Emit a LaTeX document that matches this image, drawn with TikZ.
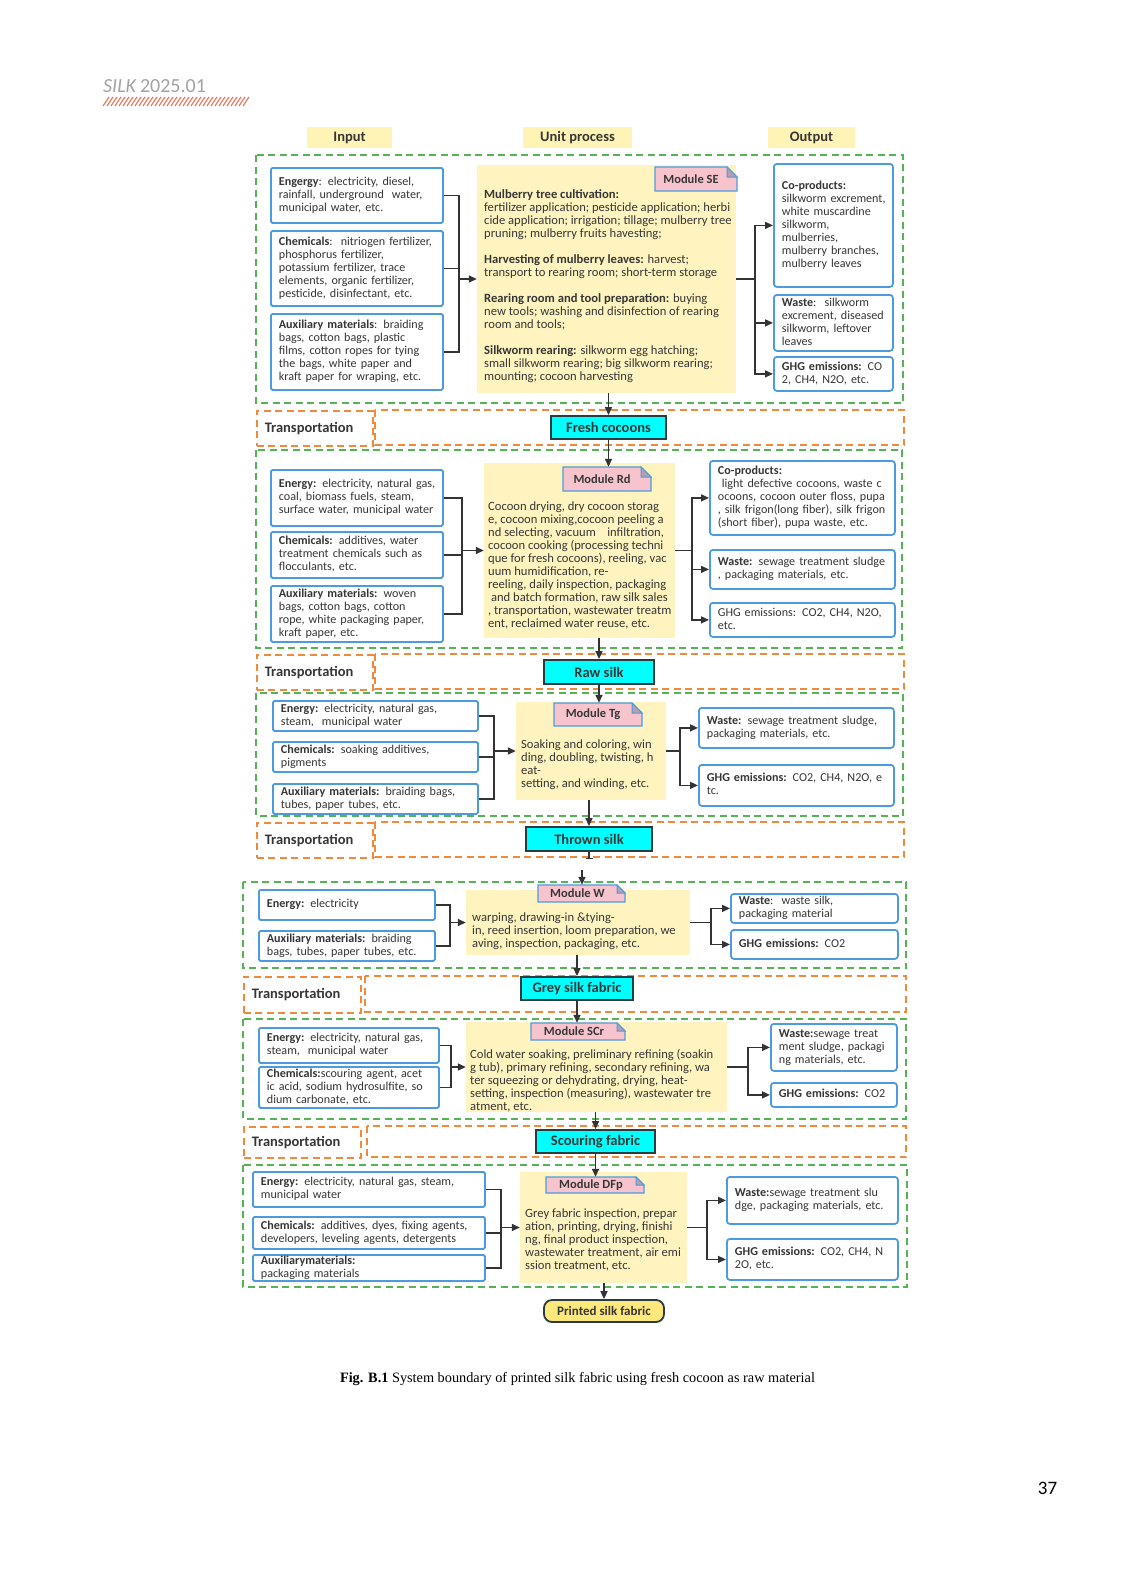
\documentclass[tikz,border=0pt]{standalone}
\usepackage{fontspec}
\setmainfont{Carlito}
\newfontfamily\capfont{Liberation Serif}
\usetikzlibrary{arrows.meta}
\definecolor{headgrey}{HTML}{A3A3A3}
\definecolor{hatchred}{HTML}{E57B5C}
\definecolor{grpgreen}{HTML}{55B255}
\definecolor{trporange}{HTML}{EF8A3C}
\definecolor{boxblue}{HTML}{4C9BE0}
\definecolor{unityel}{HTML}{FFF4C0}
\definecolor{headyel}{HTML}{FFF4B5}
\definecolor{modpink}{HTML}{F7C4CD}
\definecolor{foldgrey}{HTML}{BB9DAE}
\definecolor{prodcyan}{HTML}{00FFFF}
\definecolor{prodline}{HTML}{2B3B40}
\definecolor{printyel}{HTML}{FFE97C}
\definecolor{txt}{HTML}{363636}
\definecolor{linec}{HTML}{333333}
\newcommand{\bodyfont}{\fontsize{12.1}{13}\selectfont}
\newcommand{\unitfont}{\fontsize{12.6}{13}\selectfont}
\newcommand{\lns}[1]{\begin{tabular}{@{}l@{}}#1\end{tabular}}

\begin{document}
\begin{tikzpicture}[x=1pt, y=-1pt,
    grp/.style={draw=grpgreen, line width=1.5pt, dash pattern=on 7pt off 4.5pt},
    trp/.style={draw=trporange, line width=1.5pt, dash pattern=on 7pt off 4.5pt},
    trbox/.style={trp, anchor=north west, inner xsep=8pt, inner ysep=0pt, font=\fontsize{14.5}{16}\selectfont\bfseries, text=txt},
    colhead/.style={fill=headyel, inner sep=0pt, font=\fontsize{14.5}{16}\selectfont\bfseries, text=txt},
    inbox/.style={draw=boxblue, line width=1.8pt, fill=white, rounded corners=1.5pt, anchor=north west, inner xsep=8pt, inner ysep=0pt, font=\bodyfont, text=txt},
    outbox/.style={inbox, rounded corners=3pt},
    unitbox/.style={fill=unityel, inner sep=0pt},
    unittext/.style={anchor=north west, inner sep=0pt, align=left, font=\unitfont, text=txt},
    modfill/.style={fill=modpink, draw=boxblue, line width=1.3pt},
    modfold/.style={fill=foldgrey, draw=boxblue, line width=1pt},
    modlabel/.style={inner sep=0pt, font=\fontsize{12.5}{14}\selectfont\bfseries, text=txt},
    prodbox/.style={draw=prodline, line width=1.8pt, fill=prodcyan, inner sep=0pt, font=\fontsize{14.5}{16}\selectfont\bfseries, text=txt},
    printbox/.style={prodbox, fill=printyel, rounded corners=8pt, font=\fontsize{13}{15}\selectfont\bfseries},
    conn/.style={draw=linec, line width=1.5pt},
    arr/.style={conn, -{Triangle[length=8pt,width=7pt]}},
]
\path[use as bounding box, fill=white] (0,0) rectangle (1134,1582);

% page header
\node[anchor=base west, inner sep=0pt, text=headgrey, font=\fontsize{20}{22}\selectfont] (silk) at (103,92) {\textit{SILK}\,2025.01};
\foreach \i in {0,...,35} \draw[hatchred, line width=1.2pt] (103+4*\i,106) -- (109+4*\i,97);

% column heads
\node[colhead, minimum width=85pt, minimum height=21pt] (h-in) at (349.5,137.5) {Input};
\node[colhead, minimum width=109pt, minimum height=21pt] (h-up) at (577.5,137.5) {Unit process};
\node[colhead, minimum width=87pt, minimum height=21pt] (h-out) at (811.5,137.5) {Output};

% system boundaries
\draw[grp] (256,155) rectangle (903,403);
\draw[grp] (256,450) rectangle (902,648);
\draw[grp] (256,693) rectangle (903,816);
\draw[grp] (243,882) rectangle (906,968);
\draw[grp] (243,1019) rectangle (906,1119);
\draw[grp] (243,1165) rectangle (907,1287);

% transportation rows
\node[trbox, text width=100pt, minimum height=35pt] (tr1) at (256,410) {Transportation};
\draw[trp] (375,410) rectangle (904,445);
\node[trbox, text width=100pt, minimum height=35pt] (tr2) at (256,654) {Transportation};
\draw[trp] (375,654) rectangle (904,689);
\node[trbox, text width=100pt, minimum height=35pt] (tr3) at (256,822) {Transportation};
\draw[trp] (375,822) rectangle (904,857);
\node[trbox, text width=101pt, minimum height=36pt] (tr4) at (243,976) {Transportation};
\draw[trp] (365,976) rectangle (906,1012);
\node[trbox, text width=101pt, minimum height=31pt] (tr5) at (243,1126) {Transportation};
\draw[trp] (367,1126) rectangle (906,1157);

% unit process boxes
\node[unitbox, minimum width=259pt, minimum height=228pt] (se-unit) at (606.5,279) {};
\node[unitbox, minimum width=191pt, minimum height=175pt] (rd-unit) at (579.5,550.5) {};
\node[unitbox, minimum width=150pt, minimum height=98pt] (tg-unit) at (591,751) {};
\node[unitbox, minimum width=224pt, minimum height=65pt] (w-unit) at (578,922.5) {};
\node[unitbox, minimum width=261pt, minimum height=90pt] (scr-unit) at (596.5,1067) {};
\node[unitbox, minimum width=167pt, minimum height=111pt] (dfp-unit) at (603.5,1227.5) {};

% module labels
\filldraw[modfill] (655,167) -- (727,167) -- (737,177) -- (737,191) -- (655,191) -- cycle;
\filldraw[modfold] (727,167) -- (727,177) -- (737,177) -- cycle;
\node[modlabel, minimum width=72pt, minimum height=24pt] (se-mod) at (691,179) {Module SE};
\filldraw[modfill] (563,467) -- (641,467) -- (651,477) -- (651,491) -- (563,491) -- cycle;
\filldraw[modfold] (641,467) -- (641,477) -- (651,477) -- cycle;
\node[modlabel, minimum width=78pt, minimum height=24pt] (rd-mod) at (602,479) {Module Rd};
\filldraw[modfill] (554,703) -- (632,703) -- (642,713) -- (642,726) -- (554,726) -- cycle;
\filldraw[modfold] (632,703) -- (632,713) -- (642,713) -- cycle;
\node[modlabel, minimum width=78pt, minimum height=23pt] (tg-mod) at (593,714.5) {Module Tg};
\filldraw[modfill] (538,885) -- (617,885) -- (625,893) -- (625,902) -- (538,902) -- cycle;
\filldraw[modfold] (617,885) -- (617,893) -- (625,893) -- cycle;
\node[modlabel, minimum width=79pt, minimum height=17pt] (w-mod) at (577.5,893.5) {Module W};
\filldraw[modfill] (531,1023) -- (617,1023) -- (625,1031) -- (625,1040) -- (531,1040) -- cycle;
\filldraw[modfold] (617,1023) -- (617,1031) -- (625,1031) -- cycle;
\node[modlabel, minimum width=86pt, minimum height=17pt] (scr-mod) at (574,1031.5) {Module SCr};
\filldraw[modfill] (546,1177) -- (636,1177) -- (644,1185) -- (644,1193) -- (546,1193) -- cycle;
\filldraw[modfold] (636,1177) -- (636,1185) -- (644,1185) -- cycle;
\node[modlabel, minimum width=90pt, minimum height=16pt] (dfp-mod) at (591,1185) {Module DFp};

% unit process texts
\node[unittext] (se-txt) at (484,189) {\textbf{Mulberry tree cultivation:}\\ fertilizer application; pesticide application; herbi\\ cide application; irrigation; tillage; mulberry tree\\ pruning; mulberry fruits havesting;\\[13pt] \textbf{Harvesting of mulberry leaves:} harvest;\\ transport to rearing room; short-term storage\\[13pt] \textbf{Rearing room and tool preparation:} buying\\ new tools; washing and disinfection of rearing\\ room and tools;\\[13pt] \textbf{Silkworm rearing:} silkworm egg hatching;\\ small silkworm rearing; big silkworm rearing;\\ mounting; cocoon harvesting};
\node[unittext] (rd-txt) at (488,502) {Cocoon drying, dry cocoon storag\\ e, cocoon mixing,cocoon peeling a\\ nd selecting, vacuum\ \ \ \ infiltration,\\ cocoon cooking (processing techni\\ que for fresh cocoons), reeling, vac\\ uum humidification, re-\\ reeling, daily inspection, packaging\\ \ and batch formation, raw silk sales\\ , transportation, wastewater treatm\\ ent, reclaimed water reuse, etc.};
\node[unittext] (tg-txt) at (521,740) {Soaking and coloring, win\\ ding, doubling, twisting, h\\ eat-\\ setting, and winding, etc.};
\node[unittext] (w-txt) at (472,913) {warping, drawing-in \&tying-\\ in, reed insertion, loom preparation, we\\ aving, inspection, packaging, etc.};
\node[unittext] (scr-txt) at (470,1049) {Cold water soaking, preliminary refining (soakin\\ g tub), primary refining, secondary refining, wa\\ ter squeezing or dehydrating, drying, heat-\\ setting, inspection (measuring), wastewater tre\\ atment, etc.};
\node[unittext] (dfp-txt) at (525,1209) {Grey fabric inspection, prepar\\ ation, printing, drying, finishi\\ ng, final product inspection,\\ wastewater treatment, air emi\\ ssion treatment, etc.};

% module SE
\node[inbox, text width=156pt, minimum height=55pt] (se-en) at (270,167) {\lns{\textbf{Engergy}: electricity, diesel,\\ rainfall, underground\ \ water,\\ municipal water, etc.}};
\node[inbox, text width=156pt, minimum height=75pt] (se-ch) at (270,230) {\lns{\textbf{Chemicals}:\ \ nitriogen fertilizer,\\ phosphorus fertilizer,\\ potassium fertilizer, trace\\ elements, organic fertilizer,\\ pesticide, disinfectant, etc.}};
\node[inbox, text width=156pt, minimum height=76pt] (se-aux) at (270,313) {\lns{\textbf{Auxiliary materials}: braiding\\ bags, cotton bags, plastic\\ films, cotton ropes for tying\\ the bags, white paper and\\ kraft paper for wraping, etc.}};
\node[outbox, text width=103pt, minimum height=123pt] (se-co) at (773,163) {\lns{\textbf{Co-products:}\\ silkworm excrement,\\ white muscardine\\ silkworm,\\ mulberries,\\ mulberry branches,\\ mulberry leaves}};
\node[outbox, text width=103pt, minimum height=56pt] (se-wa) at (773,294) {\lns{\textbf{Waste}:\ \ silkworm\\ excrement, diseased\\ silkworm, leftover\\ leaves}};
\node[outbox, text width=103pt, minimum height=34pt] (se-gh) at (773,356) {\lns{\textbf{GHG emissions:} CO\\ 2, CH4, N2O, etc.}};
\coordinate (se-in) at (459,279);
\coordinate (se-out) at (755,279);
\draw[conn] (se-en.east) -| (se-in) |- (se-aux.east);
\draw[conn] (se-ch.east) -- (se-ch.east -| se-in);
\draw[arr] (se-in) -- (se-in -| se-unit.west);
\draw[conn] (se-unit.east) -- (se-out);
\draw[arr] (se-out) |- (se-co.west);
\draw[arr] (se-out) |- (se-wa.west);
\draw[arr] (se-out) |- (se-gh.west);

% module Rd
\node[inbox, text width=156pt, minimum height=56pt] (rd-en) at (270,469) {\lns{\textbf{Energy:} electricity, natural gas,\\ coal, biomass fuels, steam,\\ surface water, municipal water}};
\node[inbox, text width=156pt, minimum height=46pt] (rd-ch) at (270,531) {\lns{\textbf{Chemicals:} additives, water\\ treatment chemicals such as\\ flocculants, etc.}};
\node[inbox, text width=156pt, minimum height=56pt] (rd-aux) at (270,585) {\lns{\textbf{Auxiliary materials:} woven\\ bags, cotton bags, cotton\\ rope, white packaging paper,\\ kraft paper, etc.}};
\node[outbox, text width=169pt, minimum height=74pt] (rd-co) at (709,460) {\lns{\textbf{Co-products:}\\ \ light defective cocoons, waste c\\ ocoons, cocoon outer floss, pupa\\ , silk frigon(long fiber), silk frigon\\ (short fiber), pupa waste, etc.}};
\node[outbox, text width=169pt, minimum height=39pt] (rd-wa) at (709,549) {\lns{\textbf{Waste:} sewage treatment sludge\\ , packaging materials, etc.}};
\node[outbox, text width=169pt, minimum height=34pt] (rd-gh) at (709,602) {\lns{GHG emissions: CO2, CH4, N2O,\\ etc.}};
\coordinate (rd-in) at (462,550.5);
\coordinate (rd-out) at (692,550.5);
\draw[conn] (rd-en.east) -| (rd-in) |- (rd-aux.east);
\draw[conn] (rd-ch.east) -- (rd-ch.east -| rd-in);
\draw[arr] (rd-in) -- (rd-in -| rd-unit.west);
\draw[conn] (rd-unit.east) -- (rd-out);
\draw[arr] (rd-out) |- (rd-co.west);
\draw[arr] (rd-out) |- (rd-wa.west);
\draw[arr] (rd-out) |- (rd-gh.west);

% module Tg
\node[inbox, text width=189pt, minimum height=30pt] (tg-en) at (272,700) {\lns{\textbf{Energy:} electricity, natural gas,\\ steam,\ \ municipal water}};
\node[inbox, text width=189pt, minimum height=30pt] (tg-ch) at (272,741) {\lns{\textbf{Chemicals:} soaking additives,\\ pigments}};
\node[inbox, text width=189pt, minimum height=30pt] (tg-aux) at (272,783) {\lns{\textbf{Auxiliary materials:} braiding bags,\\ tubes, paper tubes, etc.}};
\node[outbox, text width=179pt, minimum height=40pt] (tg-wa) at (698,707) {\lns{\textbf{Waste:} sewage treatment sludge,\\ packaging materials, etc.}};
\node[outbox, text width=179pt, minimum height=41pt] (tg-gh) at (698,764) {\lns{\textbf{GHG emissions:} CO2, CH4, N2O, e\\ tc.}};
\coordinate (tg-in) at (494,751);
\coordinate (tg-out) at (680,751);
\draw[conn] (tg-en.east) -| (tg-in) |- (tg-aux.east);
\draw[conn] (tg-ch.east) -- (tg-ch.east -| tg-in);
\draw[arr] (tg-in) -- (tg-in -| tg-unit.west);
\draw[conn] (tg-unit.east) -- (tg-out);
\draw[arr] (tg-out) |- (tg-wa.west);
\draw[arr] (tg-out) |- (tg-gh.west);

% module W
\node[inbox, text width=160pt, minimum height=30pt] (w-en) at (258,889) {\lns{\textbf{Energy:} electricity}};
\node[inbox, text width=160pt, minimum height=30pt] (w-aux) at (258,930) {\lns{\textbf{Auxiliary materials:} braiding\\ bags, tubes, paper tubes, etc.}};
\node[outbox, text width=151pt, minimum height=29pt] (w-wa) at (730,893) {\lns{\textbf{Waste}:\ \ waste silk,\\ packaging material}};
\node[outbox, text width=151pt, minimum height=29pt] (w-gh) at (730,929) {\lns{\textbf{GHG emissions:} CO2}};
\coordinate (w-in) at (450,922.5);
\coordinate (w-out) at (711,922.5);
\draw[conn] (w-en.east) -| (w-in) |- (w-aux.east);
\draw[arr] (w-in) -- (w-in -| w-unit.west);
\draw[conn] (w-unit.east) -- (w-out);
\draw[arr] (w-out) |- (w-wa.west);
\draw[arr] (w-out) |- (w-gh.west);

% module SCr
\node[inbox, text width=164pt, minimum height=35pt] (scr-en) at (258,1027) {\lns{\textbf{Energy:} electricity, natural gas,\\ steam,\ \ municipal water}};
\node[inbox, text width=164pt, minimum height=41pt] (scr-ch) at (258,1066) {\lns{\textbf{Chemicals:}scouring agent, acet\\ ic acid, sodium hydrosulfite, so\\ dium carbonate, etc.}};
\node[outbox, text width=110pt, minimum height=47pt] (scr-wa) at (770,1023) {\lns{\textbf{Waste:}sewage treat\\ ment sludge, packagi\\ ng materials, etc.}};
\node[outbox, text width=110pt, minimum height=24pt] (scr-gh) at (770,1082) {\lns{\textbf{GHG emissions:} CO2}};
\coordinate (scr-in) at (451,1067);
\coordinate (scr-out) at (748,1067);
\draw[conn] (scr-en.east) -| (scr-in) |- (scr-ch.east);
\draw[arr] (scr-in) -- (scr-in -| scr-unit.west);
\draw[conn] (scr-unit.east) -- (scr-out);
\draw[arr] (scr-out) |- (scr-wa.west);
\draw[arr] (scr-out) |- (scr-gh.west);

% module DFp
\node[inbox, text width=216pt, minimum height=35pt] (dfp-en) at (252,1171) {\lns{\textbf{Energy:} electricity, natural gas, steam,\\ municipal water}};
\node[inbox, text width=216pt, minimum height=32pt] (dfp-ch) at (252,1216) {\lns{\textbf{Chemicals:} additives, dyes, fixing agents,\\ developers, leveling agents, detergents}};
\node[inbox, text width=216pt, minimum height=26pt] (dfp-aux) at (252,1254) {\lns{\textbf{Auxiliarymaterials:}\\ packaging materials}};
\node[outbox, text width=155pt, minimum height=47pt] (dfp-wa) at (726,1176) {\lns{\textbf{Waste:}sewage treatment slu\\ dge, packaging materials, etc.}};
\node[outbox, text width=155pt, minimum height=41pt] (dfp-gh) at (726,1238) {\lns{\textbf{GHG emissions:} CO2, CH4, N\\ 2O, etc.}};
\coordinate (dfp-in) at (501,1227.5);
\coordinate (dfp-out) at (707,1227.5);
\draw[conn] (dfp-en.east) -| (dfp-in) |- (dfp-aux.east);
\draw[conn] (dfp-ch.east) -- (dfp-ch.east -| dfp-in);
\draw[arr] (dfp-in) -- (dfp-in -| dfp-unit.west);
\draw[conn] (dfp-unit.east) -- (dfp-out);
\draw[arr] (dfp-out) |- (dfp-wa.west);
\draw[arr] (dfp-out) |- (dfp-gh.west);

% products
\node[prodbox, minimum width=115pt, minimum height=23pt] (fc) at (608.5,427.5) {Fresh cocoons};
\node[prodbox, minimum width=110pt, minimum height=24pt] (rs) at (599,672) {Raw silk};
\node[prodbox, minimum width=126pt, minimum height=24pt] (ts) at (589,839) {Thrown silk};
\node[prodbox, minimum width=112pt, minimum height=23pt] (gs) at (577,988.5) {Grey silk fabric};
\node[prodbox, minimum width=119pt, minimum height=23pt] (sf) at (595.5,1141.5) {Scouring fabric};
\node[printbox, minimum width=120pt, minimum height=22pt] (pf) at (604,1311) {Printed silk fabric};

% main flow
\draw[arr] (se-unit.south -| fc.north) -- (fc.north);
\draw[arr] (fc.south) -- (fc.south |- rd-mod.north);
\draw[arr] (rd-unit.south -| rs.north) -- (rs.north);
\draw[arr] (rs.south) -- (rs.south |- tg-mod.north);
\draw[arr] (tg-unit.south -| ts.north) -- (ts.north);
\coordinate (ts-end) at (589,859);
\draw[conn, -{Bar[width=7pt]}] (ts.south) -- (ts-end);
\coordinate (w-top) at (582,870);
\draw[arr] (w-top) -- (w-top |- w-mod.north);
\draw[arr] (w-unit.south -| gs.north) -- (gs.north);
\draw[arr] (gs.south) -- (gs.south |- scr-mod.north);
\draw[arr] (scr-unit.south -| sf.north) -- (sf.north);
\draw[arr] (sf.south) -- (sf.south |- dfp-mod.north);
\draw[arr] (dfp-unit.south -| pf.north) -- (pf.north);

% caption and page number
\node[font=\capfont\fontsize{14.3}{16}\selectfont] (cap) at (577.5,1379) {\textbf{Fig. B.1} System boundary of printed silk fabric using fresh cocoon as raw material};
\node[font=\fontsize{19}{21}\selectfont] (pg) at (1047.5,1488) {37};
\end{tikzpicture}
\end{document}
